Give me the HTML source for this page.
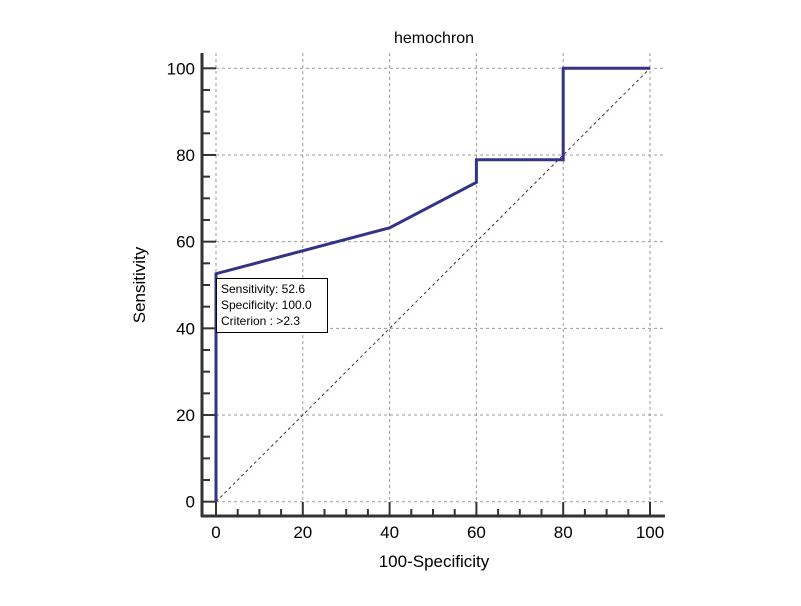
<!DOCTYPE html>
<html><head><meta charset="utf-8"><style>
body{margin:0;background:#fff;}
svg text{font-family:"Liberation Sans",Arial,sans-serif;fill:#000;}
</style></head><body>
<svg id="chart" width="801" height="601" xmlns="http://www.w3.org/2000/svg">
<text x="434" y="43" font-size="16" text-anchor="middle">hemochron</text>
<text x="434" y="567" font-size="17" text-anchor="middle">100-Specificity</text>
<text transform="translate(145,285) rotate(-90)" font-size="17" text-anchor="middle">Sensitivity</text>
<g id="grid"></g><g id="axes"></g><g id="series"></g>
<g>
<rect x="216.5" y="278.5" width="111" height="54" fill="#fff" stroke="#000" stroke-width="1"/>
<text x="221" y="293" font-size="12">Sensitivity: 52.6</text>
<text x="221" y="309" font-size="12">Specificity: 100.0</text>
<text x="221" y="325" font-size="12">Criterion : &gt;2.3</text>
</g>
</svg>
<script>
const xTicks=[0,20,40,60,80,100];
const yTicks=[0,20,40,60,80,100];
const rocX=[0,0,40,60,60,80,80,100];
const rocY=[0,52.6,63.2,73.7,78.9,78.9,100,100];
const NS='http://www.w3.org/2000/svg';
const X=v=>216+v*4.34, Y=v=>501.7-v*4.334;
function mk(p,t,a){const e=document.createElementNS(NS,t);for(const k in a)e.setAttribute(k,a[k]);p.appendChild(e);return e;}
const g=document.getElementById('grid'),ax=document.getElementById('axes'),s=document.getElementById('series');
xTicks.forEach(v=>{const l=mk(g,'line',{x1:X(v),x2:X(v),y1:53,y2:Y(0),stroke:'#999','stroke-dasharray':'3,3'});

});
yTicks.forEach(v=>{const l=mk(g,'line',{x1:216,x2:665,y1:Y(v),y2:Y(v),stroke:'#999','stroke-dasharray':'3,3'});

});
const d=mk(g,'line',{x1:X(0),y1:Y(0),x2:X(100),y2:Y(100),stroke:'#602040','stroke-dasharray':'3,3'});


const ya=mk(ax,'line',{x1:202,x2:202,y1:53,y2:517,stroke:'#333','stroke-width':3});


const xa=mk(ax,'line',{x1:201,x2:665,y1:516,y2:516,stroke:'#333','stroke-width':3});


for(let v=0;v<=100;v+=5){
 const maj=v%20===0;
 mk(ax,'line',{x1:202,x2:maj?216:210,y1:Y(v),y2:Y(v),stroke:'#333','stroke-width':2});
 mk(ax,'line',{x1:X(v),x2:X(v),y1:516,y2:maj?502:509,stroke:'#333','stroke-width':2});
}
xTicks.forEach(v=>{const t=mk(ax,'text',{x:X(v),y:538,'font-size':17,'text-anchor':'middle'});t.textContent=v;

});
yTicks.forEach(v=>{const t=mk(ax,'text',{x:195,y:Y(v)+6,'font-size':17,'text-anchor':'end'});t.textContent=v;

});
const p=mk(s,'polyline',{points:rocX.map((x,i)=>X(x)+','+Y(rocY[i])).join(' '),fill:'none',stroke:'#333388','stroke-width':3});


</script>
</body></html>
